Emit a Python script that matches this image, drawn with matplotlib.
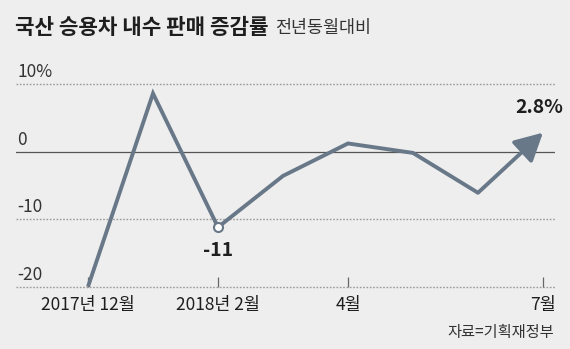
import matplotlib
matplotlib.use("Agg")
import matplotlib.pyplot as plt
from matplotlib.transforms import blended_transform_factory, offset_copy

# Monthly change in domestic passenger-car sales (year on year, %)
months = ["2017-12", "2018-01", "2018-02", "2018-03", "2018-04", "2018-05", "2018-06", "2018-07"]
change = [-20.0, 8.6, -11.2, -3.6, 1.2, -0.2, -6.1, 2.8]

tick_positions = [0, 2, 4, 7]
tick_labels = ["2017년 12월", "2018년 2월", "4월", "7월"]
y_levels = [10, 0, -10, -20]
y_labels = ["10%", "0", "-10", "-20"]

title = "국산 승용차 내수 판매 증감률"
subtitle = "전년동월대비"
source = "자료=기획재정부"

BG = "#eeeeee"
LINE = "#687888"
TEXT = "#1e1e1e"

FAM = ["Noto Sans CJK KR", "DejaVu Sans"]
plt.rcParams["font.family"] = FAM

W, H = 570, 349
fig = plt.figure(figsize=(W / 100, H / 100), dpi=100, facecolor=BG)

left_px, right_px, top_px, bottom_px = 16, 555, 84, 286.7
ax = fig.add_axes([left_px / W, 1 - bottom_px / H, (right_px - left_px) / W, (bottom_px - top_px) / H])
ax.set_facecolor(BG)
for s in ax.spines.values():
    s.set_visible(False)

ax.set_xlim(-1.108, 7.185)
ax.set_ylim(-20, 10)

# horizontal guides
for lv in y_levels:
    if lv == 0:
        ax.axhline(lv, color="#555555", lw=0.9, zorder=1)
    else:
        ax.axhline(lv, color="#9a9a9a", lw=1.0, ls=(0, (1.2, 1.2)), zorder=1, clip_on=False)

# y labels sit above their guide lines
ytrans = offset_copy(blended_transform_factory(ax.transAxes, ax.transData), fig=fig, x=1.5, y=3, units="dots")
for lv, lab in zip(y_levels, y_labels):
    ax.text(0.0, lv, lab, transform=ytrans, ha="left", va="bottom",
            fontsize=12.5, color="#333333", family=FAM)

# x ticks rising from the bottom guide
ax.set_xticks(tick_positions)
ax.set_xticklabels(tick_labels, fontsize=12.5, color=TEXT, family=FAM)
ax.tick_params(axis="x", direction="in", length=7, width=0.9, color="#666666", pad=7)
ax.tick_params(axis="y", left=False, labelleft=False)

x = list(range(len(change)))
ax.plot(x[:-1], change[:-1], color=LINE, lw=2.8, solid_joinstyle="miter",
        solid_capstyle="butt", zorder=3, clip_on=False)
ax.annotate("", xy=(x[-1], change[-1]), xytext=(x[-2], change[-2]),
            arrowprops=dict(arrowstyle="-|>,head_length=0.85,head_width=0.45",
                            color=LINE, lw=2.8, shrinkA=0, shrinkB=0,
                            mutation_scale=20), zorder=3)

# low point marker and value labels
ax.plot([x[2]], [change[2]], marker="o", ms=6.5, mfc="white", mec=LINE, mew=1.5, zorder=4)
ax.annotate("-11", xy=(x[2], change[2]), xytext=(0, -10), textcoords="offset points",
            ha="center", va="top", fontsize=14, fontweight="bold", color=TEXT, family=FAM)
ax.annotate(f"{change[-1]}%", xy=(x[-1], change[-1]), xytext=(-3, 11), textcoords="offset points",
            ha="center", va="bottom", fontsize=14, fontweight="bold", color=TEXT, family=FAM)

title_txt = fig.text(15 / W, 1 - 27 / H, title, ha="left", va="center", fontsize=15.3,
                     fontweight="bold", color=TEXT, family=["Noto Sans CJK KR"])
ax.annotate(subtitle, xy=(1, 0.5), xycoords=title_txt, xytext=(5, -1), textcoords="offset points",
            ha="left", va="center", fontsize=12.5, color="#333333",
            family=["Noto Sans CJK KR"], annotation_clip=False)
fig.text(554 / W, 1 - 332 / H, source, ha="right", va="center", fontsize=11,
         color="#333333", family=["Noto Sans CJK KR"])

fig.savefig("out.png", dpi=100, facecolor=BG)
